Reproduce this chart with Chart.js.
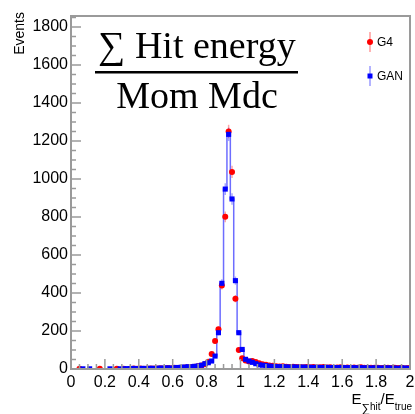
<!DOCTYPE html>
<html>
<head>
<meta charset="utf-8">
<script src="https://cdn.jsdelivr.net/npm/chart.js@4/dist/chart.umd.min.js"></script>
<style>
  html, body { margin: 0; padding: 0; background: #fff; }
  canvas { display: block; }
</style>
</head>
<body>
<canvas id="c" width="415" height="414"></canvas>
<script>
// histogram: 100 bins from 0 to 2
const binLow = 0;
const binWidth = 0.02;
const xTicks = [0, 0.2, 0.4, 0.6, 0.8, 1, 1.2, 1.4, 1.6, 1.8, 2];
const yTicks = [0, 200, 400, 600, 800, 1000, 1200, 1400, 1600, 1800];

// G4 (red points)
const g4 = [
  0, 0, 1, 0, 0, 0, 0, 0, 1, 0,
  0, 0, 0, 1, 0, 1, 0, 1, 2, 1,
  2, 1, 3, 2, 3, 2, 4, 3, 5, 4,
  6, 5, 7, 8, 9, 11, 12, 14, 18, 25,
  38, 79, 147, 209, 440, 801, 1250, 1037, 370, 100,
  56, 45, 40, 42, 37, 30, 25, 22, 18, 17,
  15, 13, 14, 12, 11, 12, 10, 11, 9, 10,
  9, 11, 8, 9, 10, 8, 9, 7, 8, 9,
  7, 8, 6, 8, 7, 9, 6, 7, 6, 7,
  6, 5, 7, 6, 5, 6, 5, 6, 4, 5
];

// GAN (blue points + step line)
const gan = [
  0, 0, 0, 1, 0, 1, 0, 0, 0, 0,
  0, 1, 0, 0, 1, 1, 2, 1, 3, 2,
  3, 3, 2, 4, 3, 4, 5, 4, 6, 5,
  7, 8, 9, 10, 12, 12, 14, 16, 20, 28,
  33, 42, 68, 191, 451, 947, 1235, 895, 465, 191,
  103, 51, 42, 35, 28, 22, 20, 18, 15, 14,
  13, 12, 12, 11, 10, 11, 10, 9, 10, 9,
  9, 8, 9, 8, 8, 9, 7, 8, 7, 8,
  7, 7, 6, 7, 6, 7, 6, 6, 5, 6,
  6, 5, 5, 6, 5, 5, 4, 5, 5, 4
];

const centers = g4.map((_, i) => binLow + binWidth * (i + 0.5));
const points = (vals, skipEmpty) =>
  vals.map((v, i) => ({ x: centers[i], y: (skipEmpty && v === 0) ? null : v }));

const FRAME = '#9a9a9a';
const SANS = '"Liberation Sans", Arial, sans-serif';
const SERIF = '"Liberation Serif", "Times New Roman", serif';

// error bars, frame, inward ticks, title and legend
const rootStyle = {
  id: 'rootStyle',
  beforeDatasetsDraw(chart) {
    const { ctx, scales: { x, y } } = chart;
    ctx.save();
    const bars = [[g4, 'rgba(255,0,0,0.35)'], [gan, 'rgba(0,0,255,0.35)']];
    for (const [vals, col] of bars) {
      ctx.strokeStyle = col;
      ctx.lineWidth = 1.5;
      vals.forEach((v, i) => {
        if (!v) return;
        const px = x.getPixelForValue(centers[i]);
        const e = Math.sqrt(v);
        ctx.beginPath();
        ctx.moveTo(px, y.getPixelForValue(v - e));
        ctx.lineTo(px, y.getPixelForValue(v + e));
        ctx.stroke();
      });
    }
    ctx.restore();
  },
  afterDraw(chart) {
    const { ctx, chartArea: a, scales: { x, y } } = chart;
    ctx.save();
    ctx.strokeStyle = FRAME;
    ctx.lineWidth = 2;
    ctx.strokeRect(a.left, a.top, a.right - a.left, a.bottom - a.top);

    ctx.lineWidth = 1.5;
    ctx.beginPath();
    for (let v = 0; v <= 1850; v += 50) {
      const py = y.getPixelForValue(v);
      const len = v % 200 === 0 ? 10 : 5;
      ctx.moveTo(a.left, py);
      ctx.lineTo(a.left + len, py);
    }
    for (let k = 0; k <= 40; k++) {
      const px = x.getPixelForValue(k * 0.05);
      const len = k % 4 === 0 ? 10 : 5;
      ctx.moveTo(px, a.bottom);
      ctx.lineTo(px, a.bottom - len);
    }
    ctx.stroke();

    // y title
    ctx.fillStyle = '#000';
    ctx.font = '14px ' + SANS;
    ctx.save();
    ctx.translate(24, 12);
    ctx.rotate(-Math.PI / 2);
    ctx.textAlign = 'right';
    ctx.textBaseline = 'alphabetic';
    ctx.fillText('Events', 0, 0);
    ctx.restore();

    // x title: E_{∑hit}/E_{true}, right aligned
    const parts = [
      ['E', 15, 404], ['\u2211', 12, 412], ['hit', 10, 410],
      ['/E', 15, 404], ['true', 10, 410]
    ];
    let w = 0;
    parts.forEach(p => { ctx.font = p[1] + 'px ' + SANS; w += ctx.measureText(p[0]).width; });
    let cx = 412 - w;
    ctx.textAlign = 'left';
    parts.forEach(p => {
      ctx.font = p[1] + 'px ' + SANS;
      ctx.fillText(p[0], cx, p[2]);
      cx += ctx.measureText(p[0]).width;
    });

    // big fraction title
    ctx.textAlign = 'center';
    ctx.font = '38px ' + SERIF;
    ctx.fillText('\u2211 Hit energy', 197, 58);
    ctx.fillText('Mom Mdc', 197, 108);
    ctx.fillRect(95, 71, 203, 2.5);

    // legend
    const leg = [['G4', 'red', 'circle', 42], ['GAN', 'blue', 'rect', 76]];
    ctx.font = '12px ' + SANS;
    ctx.textBaseline = 'middle';
    ctx.textAlign = 'left';
    leg.forEach(([txt, col, shape, ly]) => {
      ctx.strokeStyle = col === 'red' ? 'rgba(255,0,0,0.4)' : 'rgba(0,0,255,0.4)';
      ctx.lineWidth = 1.5;
      ctx.beginPath();
      ctx.moveTo(370, ly - 10);
      ctx.lineTo(370, ly + 10);
      ctx.stroke();
      ctx.fillStyle = col;
      if (shape === 'circle') {
        ctx.beginPath(); ctx.arc(370, ly, 3, 0, Math.PI * 2); ctx.fill();
      } else {
        ctx.fillRect(367.5, ly - 2.5, 5, 5);
      }
      ctx.fillStyle = '#000';
      ctx.fillText(txt, 377, ly + 1);
    });
    ctx.restore();
  }
};

new Chart(document.getElementById('c'), {
  type: 'line',
  data: {
    datasets: [
      {
        label: 'GAN',
        data: points(gan, true),
        showLine: false,
        pointStyle: 'rect',
        pointRadius: 3.6,
        pointBackgroundColor: 'blue',
        pointBorderWidth: 0,
        order: 0
      },
      {
        label: 'G4',
        data: points(g4, true),
        showLine: false,
        pointStyle: 'circle',
        pointRadius: 3,
        pointBackgroundColor: 'red',
        pointBorderWidth: 0,
        order: 1
      },
      {
        label: 'GAN hist',
        data: points(gan, false),
        stepped: 'middle',
        borderColor: 'rgba(30,30,255,0.65)',
        borderWidth: 1.5,
        pointRadius: 0,
        fill: false,
        order: 2
      }
    ]
  },
  options: {
    responsive: false,
    animation: false,
    events: [],
    layout: { padding: { left: 0, top: 16, right: 0, bottom: 0 } },
    plugins: { legend: { display: false }, tooltip: { enabled: false } },
    scales: {
      x: {
        type: 'linear',
        min: 0,
        max: 2,
        afterFit: s => { s.height = 45; s.paddingRight = 5; s.paddingLeft = 0; },
        afterBuildTicks: s => { s.ticks = xTicks.map(v => ({ value: v })); },
        grid: { display: false, drawTicks: false },
        border: { display: false },
        ticks: {
          font: { family: SANS, size: 16 },
          color: '#000',
          padding: 4,
          maxRotation: 0,
          autoSkip: false,
          callback: v => String(Number(v.toFixed(1)))
        }
      },
      y: {
        min: 0,
        max: 1858,
        afterFit: s => { s.width = 71; s.paddingTop = 0; s.paddingBottom = 0; },
        afterBuildTicks: s => { s.ticks = yTicks.map(v => ({ value: v })); },
        grid: { display: false, drawTicks: false },
        border: { display: false },
        ticks: {
          font: { family: SANS, size: 16 },
          color: '#000',
          padding: 3,
          autoSkip: false,
          callback: v => String(v)
        }
      }
    }
  },
  plugins: [rootStyle]
});
</script>
</body>
</html>
